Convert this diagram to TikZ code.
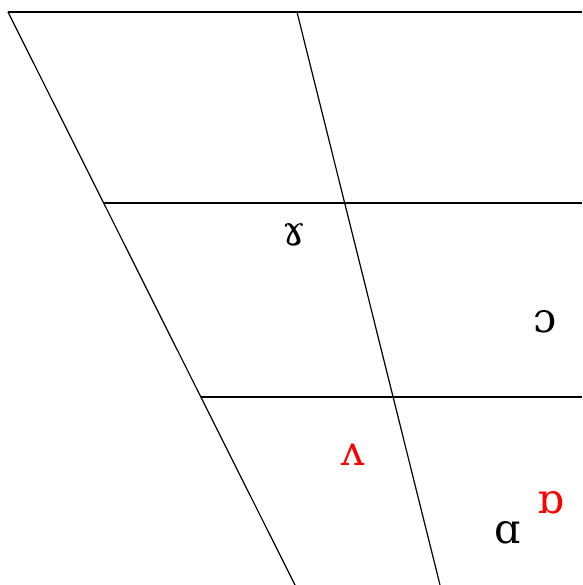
\documentclass[tikz,border=0pt]{standalone}
\usepackage{fontspec}
\setmainfont{DejaVu Serif}
\begin{document}
\begin{tikzpicture}[x=0.75pt,y=-0.75pt,line width=0.9pt,
  vowel/.style={anchor=base,inner sep=0pt,font=\fontsize{31}{36}\selectfont},
  rvowel/.style={vowel,text=red}]
\useasboundingbox (0,0) rectangle (582,585);
\coordinate (tl) at (8,12);
\coordinate (bl) at (295,585);
\coordinate (tm) at (297,12);
\coordinate (bm) at (440,585);
\draw (tl) -- (582,12);
\draw (tl) -- (bl);
\draw (tm) -- (bm);
\draw (103.7,203) -- (582,203);
\draw (200.8,397) -- (582,397);
\node[vowel] (closemid) at (294,245) {ɤ};
\node[vowel] (openmidback) at (545,332) {ɔ};
\node[rvowel] (wedge) at (353,465) {ʌ};
\node[rvowel] (roundopen) at (551,513) {ɒ};
\node[vowel] (openback) at (508,543) {ɑ};
\end{tikzpicture}
\end{document}
